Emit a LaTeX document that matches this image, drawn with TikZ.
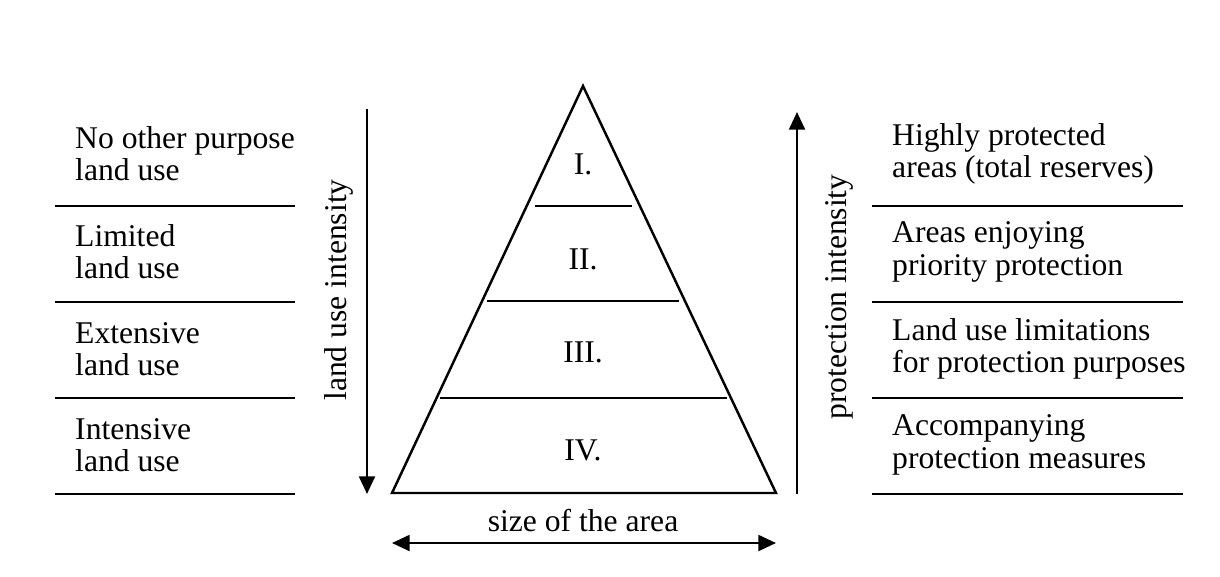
\documentclass[tikz,border=0pt]{standalone}
\usepackage{fontspec}
\setmainfont{Liberation Serif}
\usetikzlibrary{positioning, arrows.meta}

\begin{document}
\begin{tikzpicture}[x=0.02cm, y=-0.02cm, line width=1.4pt,
    >={Triangle[length=10pt, width=9pt]},
    txt/.style={anchor=west, align=left, inner sep=0pt, font=\fontsize{18pt}{18.4pt}\selectfont},
    tier/.style={inner sep=0pt, font=\fontsize{18pt}{20pt}\selectfont}]
    \useasboundingbox[fill=white] (0,0) rectangle (1220,576);

    % Pyramid
    \coordinate (apex) at (583,86);
    \coordinate (bl) at (392,493);
    \coordinate (br) at (776,493);
    \draw[line join=miter] (apex) -- (br) -- (bl) -- cycle;
    \draw (535,206) -- (632,206);
    \draw (487,301) -- (679,301);
    \draw (440,398) -- (727,398);

    \node[tier] (t1) at (583,164) {I.};
    \node[tier] (t2) at (583,259) {II.};
    \node[tier] (t3) at (583,352) {III.};
    \node[tier] (t4) at (583,450) {IV.};

    % Axis arrows
    \coordinate (landtop) at (367,109);
    \coordinate (landbot) at (367,494);
    \draw[->] (landtop) -- (landbot);
    \node[tier, rotate=90] (landlbl) at (339,290) {land use intensity};

    \coordinate (protbot) at (797,494);
    \coordinate (prottop) at (797,112);
    \draw[->] (protbot) -- (prottop);
    \node[tier, rotate=90] (protlbl) at (839,297) {protection intensity};

    \node[tier] (size) at (583,521) {size of the area};
    \coordinate (sizel) at (392,543);
    \coordinate (sizer) at (776,543);
    \draw[<->] (sizel) -- (sizer);

    % Separator lines of both columns
    \foreach \y in {206,302,398,494} {
        \draw (55,\y) -- (295,\y);
        \draw (872,\y) -- (1183,\y);
    }

    % Left column: land use
    \node[txt] (l1) at (74,154) {No other purpose\\land use};
    \node[txt] (l2) at (74,252) {Limited\\land use};
    \node[txt] (l3) at (74,349) {Extensive\\land use};
    \node[txt] (l4) at (74,445) {Intensive\\land use};

    % Right column: protection
    \node[txt] (r1) at (891,154) {Highly protected\\areas (total reserves)};
    \node[txt] (r2) at (891,252) {Areas enjoying\\priority protection};
    \node[txt] (r3) at (891,349) {Land use limitations\\for protection purposes};
    \node[txt] (r4) at (891,445) {Accompanying\\protection measures};
\end{tikzpicture}
\end{document}
